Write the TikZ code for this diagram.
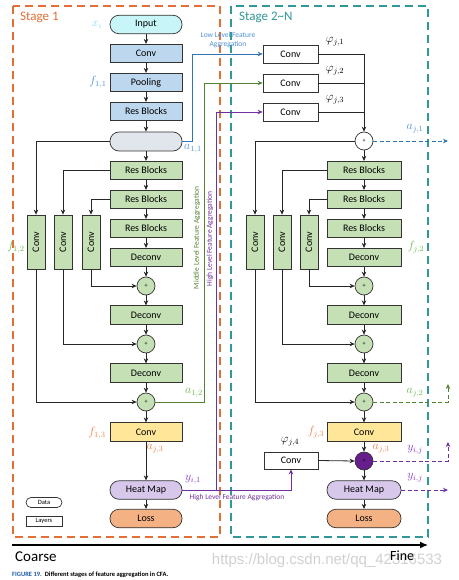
\documentclass[tikz,border=0pt]{standalone}
\usepackage{fontspec}
\setmainfont{Carlito}
\newfontfamily\wmfont{Liberation Sans}
\usetikzlibrary{arrows.meta}
\definecolor{orangeS}{RGB}{226,112,52}
\definecolor{tealS}{RGB}{48,152,152}
\definecolor{gfill}{RGB}{197,224,180}
\definecolor{bfill}{RGB}{189,215,238}
\definecolor{inputc}{RGB}{200,245,248}
\definecolor{pale}{RGB}{225,230,236}
\definecolor{hmfill}{RGB}{215,200,235}
\definecolor{yfill}{RGB}{255,230,153}
\definecolor{lossfill}{RGB}{244,177,131}
\definecolor{blueL}{RGB}{46,117,182}
\definecolor{blueT}{RGB}{80,145,215}
\definecolor{greenL}{RGB}{84,130,53}
\definecolor{greenT}{RGB}{110,190,80}
\definecolor{purpL}{RGB}{112,48,160}
\definecolor{purpT}{RGB}{130,60,200}
\definecolor{orangeT}{RGB}{240,130,70}
\definecolor{cyanT}{RGB}{130,220,235}
\definecolor{plusP}{RGB}{102,30,140}
\definecolor{capblue}{RGB}{30,90,170}
\begin{document}
\begin{tikzpicture}[x=1pt,y=-1pt,
  lay/.style={draw=black!80, line width=0.7pt, minimum width=72pt, minimum height=18.5pt, inner sep=0pt, font=\fontsize{10}{11}\selectfont},
  gbox/.style={lay, fill=gfill},
  vbox/.style={lay, fill=gfill, minimum width=54pt, minimum height=18pt, rotate=90},
  wbox/.style={lay, fill=white, minimum width=55pt, minimum height=18pt},
  dat/.style={lay, rounded corners=9pt},
  plus/.style={circle, draw=black!80, line width=0.7pt, minimum size=18pt, inner sep=0pt, fill=gfill, font=\fontsize{6}{6}\selectfont},
  arr/.style={-{Stealth[length=5pt,width=4.5pt]}, line width=0.8pt, draw=black!85},
  carr/.style={-{Stealth[length=5pt,width=4.5pt]}, line width=0.9pt},
  darr/.style={-{Stealth[length=5pt,width=4.5pt]}, line width=0.9pt, dash pattern=on 4pt off 2.5pt},
  lab/.style={font=\fontsize{11.5}{12}\selectfont, inner sep=0pt},
  small/.style={font=\fontsize{7.5}{8.5}\selectfont, inner sep=0pt},
  stage/.style={line width=1.2pt, dash pattern=on 8pt off 5pt}
]
\useasboundingbox (0,0) rectangle (458,580);
\fill[white] (0,0) rectangle (458,580);

% stage frames
\draw[stage, orangeS] (13,6) rectangle (220,537);
\draw[stage, tealS] (231,6) rectangle (428,537);
\node[anchor=west, text=orangeS, font=\fontsize{13}{14}\selectfont, inner sep=0pt] (s1) at (20,17) {Stage 1};
\node[anchor=west, text=tealS, font=\fontsize{13}{14}\selectfont, inner sep=0pt] (s2) at (239,17) {Stage 2\textasciitilde N};

% ---------- Stage 1 main column ----------
\node[dat, fill=inputc] (in) at (146,24.5) {Input};
\node[lay, fill=bfill] (c1) at (146,53.5) {Conv};
\node[lay, fill=bfill] (pool) at (146,82.5) {Pooling};
\node[lay, fill=bfill] (rb0) at (146,111.5) {Res Blocks};
\node[dat, fill=pale, minimum height=19pt] (feat) at (146,141.5) {};
\node[gbox] (rb1) at (146,170.5) {Res Blocks};
\node[gbox] (rb2) at (146,199.5) {Res Blocks};
\node[gbox] (rb3) at (146,228.5) {Res Blocks};
\node[gbox] (dc1) at (146,257.5) {Deconv};
\node[plus] (p1) at (146,286) {+};
\node[gbox] (dc2) at (146,315) {Deconv};
\node[plus] (p2) at (146,344) {+};
\node[gbox] (dc3) at (146,373) {Deconv};
\node[plus] (p3) at (146,402) {+};
\node[lay, fill=yfill] (yc) at (146,432) {Conv};
\node[dat, fill=hmfill] (hm) at (146,490) {Heat Map};
\node[dat, fill=lossfill] (loss) at (146,518.5) {Loss};

\node[vbox] (v1) at (36,242) {Conv};
\node[vbox] (v2) at (63,242) {Conv};
\node[vbox] (v3) at (91,242) {Conv};

\foreach \a/\b in {in/c1,c1/pool,pool/rb0,rb0/feat,feat/rb1,rb1/rb2,rb2/rb3,rb3/dc1,dc1/p1,p1/dc2,dc2/p2,p2/dc3,dc3/p3,p3/yc,yc/hm,hm/loss}
  \draw[arr] (\a) -- (\b);
\draw[arr] (feat.west) -| (v1.east);
\draw[arr] (rb1.west) -| (v2.east);
\draw[arr] (rb2.west) -| (v3.east);
\draw[arr] (v1.west) |- (p3.west);
\draw[arr] (v2.west) |- (p2.west);
\draw[arr] (v3.west) |- (p1.west);

% labels stage 1
\node[lab, text=cyanT] (lx) at (97,25) {$x_i$};
\node[lab, text=blueT] (lf11) at (98,82) {$f_{1,1}$};
\node[lab, text=blueT] (la11) at (193,149) {$a_{1,1}$};
\node[lab, text=greenT] (lf12) at (16,247) {$f_{1,2}$};
\node[lab, text=greenT] (la12) at (194,393) {$a_{1,2}$};
\node[lab, text=orangeT] (lf13) at (97,433) {$f_{1,3}$};
\node[lab, text=orangeT] (la13) at (155,449) {$a_{j,3}$};
\node[lab, text=purpT] (ly11) at (193,480) {$y_{i,1}$};

% legend
\node[dat, rounded corners=5pt, minimum width=36pt, minimum height=10pt, font=\fontsize{6.5}{7}\selectfont] (leg1) at (44,502.5) {Data};
\node[lay, minimum width=36pt, minimum height=10pt, font=\fontsize{6.5}{7}\selectfont] (leg2) at (44,521) {Layers};

% ---------- Stage 2 column ----------
\node[wbox] (phi1) at (290.5,54) {Conv};
\node[wbox] (phi2) at (290.5,83) {Conv};
\node[wbox] (phi3) at (290.5,112) {Conv};
\node[plus, fill=white] (q0) at (364,141) {+};
\node[gbox, minimum width=74pt] (r1) at (364,170.5) {Res Blocks};
\node[gbox, minimum width=74pt] (r2) at (364,199.5) {Res Blocks};
\node[gbox, minimum width=74pt] (r3) at (364,228.5) {Res Blocks};
\node[gbox, minimum width=74pt] (rd1) at (364,257.5) {Deconv};
\node[plus] (q1) at (364,286) {+};
\node[gbox, minimum width=74pt] (rd2) at (364,315) {Deconv};
\node[plus] (q2) at (364,344) {+};
\node[gbox, minimum width=74pt] (rd3) at (364,373) {Deconv};
\node[plus] (q3) at (364,402) {+};
\node[lay, fill=yfill, minimum width=74pt] (ryc) at (364,432) {Conv};
\node[plus, fill=plusP] (rq) at (364,461) {+};
\node[dat, fill=hmfill, minimum width=74pt] (rhm) at (364,490) {Heat Map};
\node[dat, fill=lossfill, minimum width=74pt] (rloss) at (364,518.5) {Loss};
\node[wbox, minimum width=54pt, minimum height=17pt] (phi4) at (291,460.5) {Conv};

\node[vbox] (w1) at (255,242) {Conv};
\node[vbox] (w2) at (282,242) {Conv};
\node[vbox] (w3) at (309,242) {Conv};

\draw[arr] (phi1.east) -| (q0.north);
\draw[line width=0.8pt, black!85] (phi2.east) -- (phi2.east -| q0.north);
\draw[line width=0.8pt, black!85] (phi3.east) -- (phi3.east -| q0.north);
\foreach \a/\b in {q0/r1,r1/r2,r2/r3,r3/rd1,rd1/q1,q1/rd2,rd2/q2,q2/rd3,rd3/q3,q3/ryc,ryc/rq,rq/rhm,rhm/rloss}
  \draw[arr] (\a) -- (\b);
\draw[arr] (q0.west) -| (w1.east);
\draw[arr] (r1.west) -| (w2.east);
\draw[arr] (r2.west) -| (w3.east);
\draw[arr] (w1.west) |- (q3.west);
\draw[arr] (w2.west) |- (q2.west);
\draw[arr] (w3.west) |- (q1.west);
\draw[arr] (phi4.east) -- (rq.west);

% labels stage 2
\node[lab] (lp1) at (335,42) {$\varphi_{j,1}$};
\node[lab] (lp2) at (335,71) {$\varphi_{j,2}$};
\node[lab] (lp3) at (335,100) {$\varphi_{j,3}$};
\node[lab] (lp4) at (290,442) {$\varphi_{j,4}$};
\node[lab, text=blueT] (laj1) at (415,129) {$a_{j,1}$};
\node[lab, text=greenT] (lfj2) at (416,247) {$f_{j,2}$};
\node[lab, text=greenT] (laj2) at (415,393) {$a_{j,2}$};
\node[lab, text=orangeT] (lfj3) at (316,432) {$f_{j,3}$};
\node[lab, text=orangeT] (laj3) at (381,449) {$a_{j,3}$};
\node[lab, text=purpT] (lyj1) at (415,450) {$y_{i,j}$};
\node[lab, text=purpT] (lyj2) at (415,478) {$y_{i,j}$};

% ---------- aggregation connectors ----------
\coordinate (bx) at (192,0);
\coordinate (gx) at (204,0);
\coordinate (px) at (216,0);
\draw[carr, blueL] (feat.east) -- (feat.east -| bx) |- (phi1.west);
\draw[carr, greenL] (p3.east) -- (p3.east -| gx) |- (phi2.west);
\draw[carr, purpL] (hm.east) -| (phi4.south);
\draw[carr, purpL] (hm.east -| px) |- (phi3.west);

\node[small, text=blueT, align=center] (tlow) at (228,40) {Low Level Feature\\[1pt]Aggregation};
\node[small, text=greenL, rotate=90] (tmid) at (197,238) {Middle Level Feature Aggregation};
\node[small, text=purpL, rotate=90] (thigh) at (210,239) {High Level Feature Aggregation};
\node[small, text=purpL] (thigh2) at (237,497.5) {High Level Feature Aggregation};

% dashed outputs
\coordinate (o1) at (448,141);
\coordinate (o2) at (448,384);
\coordinate (o3) at (448,442);
\coordinate (o4) at (448,490);
\draw[darr, blueL] (q0.east) -- (o1);
\draw[darr, greenL] (q3.east) -| (o2);
\draw[darr, purpL] (rq.east) -| (o3);
\draw[darr, purpL] (rhm.east) -- (o4);

% axis
\coordinate (ax0) at (12,545);
\coordinate (ax1) at (428,545);
\draw[-{Latex[length=8pt,width=7pt]}, line width=1.3pt] (ax0) -- (ax1);
\node[font=\wmfont\fontsize{15}{16}\selectfont, text=black!18, inner sep=0pt] (wm) at (327,561) {https://blog.csdn.net/qq\_42316533};
\node[font=\fontsize{15}{16}\selectfont, anchor=west, inner sep=0pt] (coarse) at (15,557) {Coarse};
\node[font=\fontsize{14}{15}\selectfont, anchor=west, inner sep=0pt] (fine) at (390,556) {Fine};
\node[anchor=west, inner sep=0pt, font=\bfseries\fontsize{6.5}{7}\selectfont] (cap) at (12,575) {\textcolor{capblue}{FIGURE 19.}\ \ Different stages of feature aggregation in CFA.};
\end{tikzpicture}
\end{document}
